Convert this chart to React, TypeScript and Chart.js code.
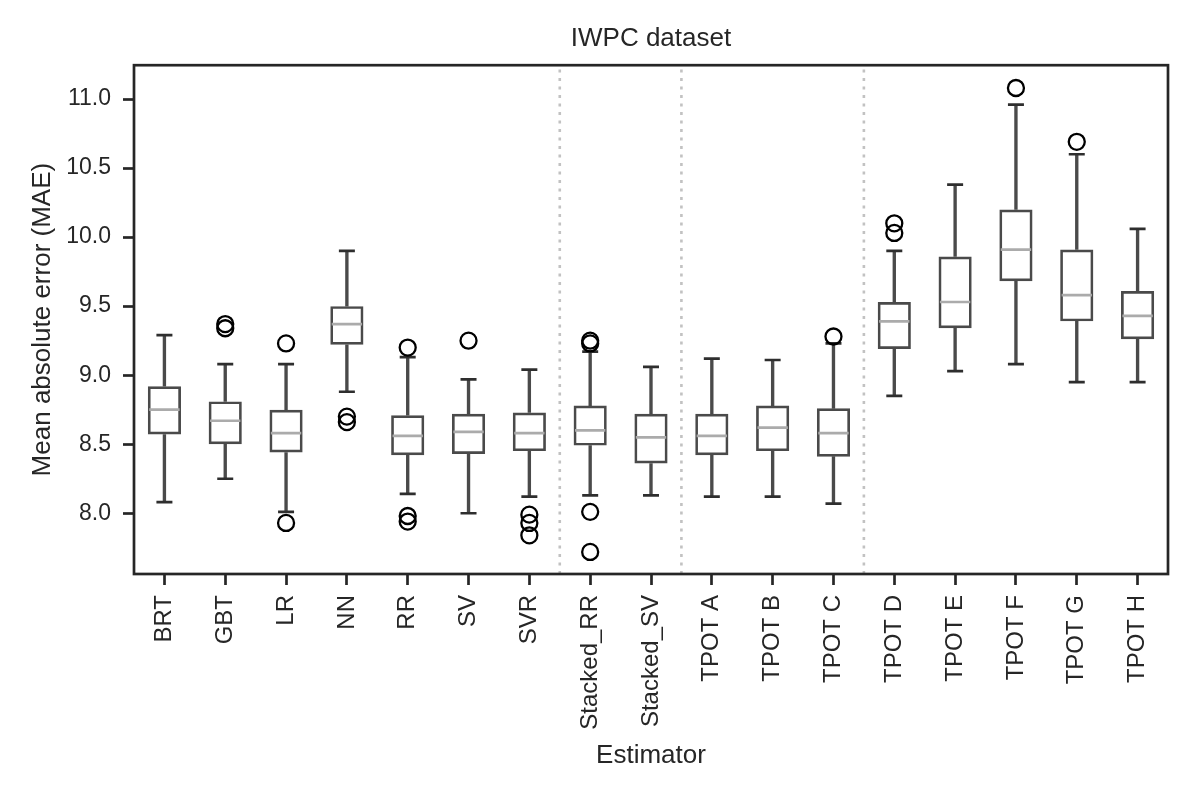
import { useEffect, useRef } from 'react';
import { Chart, registerables } from 'chart.js';

Chart.register(...registerables);

// ---- data ----
const categories = [
  'BRT', 'GBT', 'LR', 'NN', 'RR', 'SV', 'SVR', 'Stacked_RR', 'Stacked_SV',
  'TPOT A', 'TPOT B', 'TPOT C', 'TPOT D', 'TPOT E', 'TPOT F', 'TPOT G', 'TPOT H',
];
const whiskerLow = [8.08, 8.25, 8.01, 8.88, 8.14, 8.0, 8.12, 8.13, 8.13, 8.12, 8.12, 8.07, 8.85, 9.03, 9.08, 8.95, 8.95];
const q1 = [8.57, 8.5, 8.44, 9.22, 8.42, 8.43, 8.45, 8.49, 8.36, 8.42, 8.45, 8.41, 9.19, 9.34, 9.68, 9.39, 9.26];
const medians = [8.75, 8.67, 8.58, 9.37, 8.56, 8.59, 8.58, 8.6, 8.55, 8.56, 8.62, 8.58, 9.39, 9.53, 9.91, 9.58, 9.43];
const q3 = [8.92, 8.81, 8.75, 9.5, 8.71, 8.72, 8.73, 8.78, 8.72, 8.72, 8.78, 8.76, 9.53, 9.86, 10.2, 9.91, 9.61];
const whiskerHigh = [9.29, 9.08, 9.08, 9.9, 9.13, 8.97, 9.04, 9.17, 9.06, 9.12, 9.11, 9.23, 9.9, 10.38, 10.96, 10.6, 10.06];
const outliers = [
  [], [9.37, 9.34], [9.23, 7.93], [8.7, 8.66], [9.2, 7.98, 7.94], [9.25], [7.99, 7.93, 7.84],
  [9.25, 9.23, 8.01, 7.72], [], [], [], [9.28], [10.1, 10.03], [], [11.08], [10.69], [],
];
const groupEnds = ['SVR', 'Stacked_SV', 'TPOT C'];
const yTicks = [8.0, 8.5, 9.0, 9.5, 10.0, 10.5, 11.0];
const yMin = 7.56;
const yMax = 11.245;
const titleText = 'IWPC dataset';
const xTitle = 'Estimator';
const yTitle = 'Mean absolute error (MAE)';

const FONT = '"Liberation Sans", Arial, Helvetica, sans-serif';
const INK = '#262626';
const BOX = '#4a4a4a';
const CAP = '#2e2e2e';
const MED = '#ababab';
const LW = 2.7;

export default function App() {
  const ref = useRef<HTMLCanvasElement>(null);

  useEffect(() => {
    if (!ref.current) return;
    const outlierPoints = outliers.flatMap((vals, i) => vals.map((v) => ({ x: categories[i], y: v })));

    const framePlugin = {
      id: 'frameAndSeparators',
      beforeDatasetsDraw(chart: any) {
        const { ctx, chartArea: a, scales } = chart;
        const xs = scales.x;
        ctx.save();
        ctx.strokeStyle = '#c2c2c2';
        ctx.lineWidth = 2.6;
        ctx.setLineDash([3, 5.5]);
        for (const name of groupEnds) {
          const i = categories.indexOf(name);
          const px = (xs.getPixelForValue(i) + xs.getPixelForValue(i + 1)) / 2;
          ctx.beginPath();
          ctx.moveTo(px, a.bottom);
          ctx.lineTo(px, a.top);
          ctx.stroke();
        }
        ctx.restore();
      },
      afterDatasetsDraw(chart: any) {
        const { ctx, chartArea: a } = chart;
        ctx.save();
        ctx.strokeStyle = INK;
        ctx.lineWidth = LW;
        ctx.strokeRect(a.left, a.top, a.right - a.left, a.bottom - a.top);
        ctx.restore();
      },
    };

    const chart = new Chart(ref.current, {
      type: 'bar',
      data: {
        labels: categories,
        datasets: [
          {
            type: 'bar',
            label: 'lower whisker',
            data: whiskerLow.map((v, i) => [v, q1[i]]),
            backgroundColor: BOX,
            borderWidth: 0,
            barThickness: LW,
            grouped: false,
            order: 6,
          } as any,
          {
            type: 'bar',
            label: 'upper whisker',
            data: q3.map((v, i) => [v, whiskerHigh[i]]),
            backgroundColor: BOX,
            borderWidth: 0,
            barThickness: LW,
            grouped: false,
            order: 5,
          } as any,
          {
            type: 'bar',
            label: 'box',
            data: q1.map((v, i) => [v, q3[i]]),
            backgroundColor: 'rgba(255,255,255,0)',
            borderColor: BOX,
            borderWidth: LW,
            borderSkipped: false,
            barPercentage: 0.545,
            categoryPercentage: 1,
            grouped: false,
            order: 4,
          } as any,
          {
            type: 'line',
            label: 'median',
            data: medians,
            showLine: false,
            pointStyle: 'line',
            pointRadius: 15.2,
            pointHoverRadius: 15.2,
            pointBorderWidth: LW,
            pointBorderColor: MED,
            borderColor: MED,
            order: 3,
          } as any,
          {
            type: 'line',
            label: 'cap low',
            data: whiskerLow,
            showLine: false,
            pointStyle: 'line',
            pointRadius: 8,
            pointHoverRadius: 8,
            pointBorderWidth: LW,
            pointBorderColor: CAP,
            borderColor: CAP,
            order: 2,
          } as any,
          {
            type: 'line',
            label: 'cap high',
            data: whiskerHigh,
            showLine: false,
            pointStyle: 'line',
            pointRadius: 8,
            pointHoverRadius: 8,
            pointBorderWidth: LW,
            pointBorderColor: CAP,
            borderColor: CAP,
            order: 2,
          } as any,
          {
            type: 'line',
            label: 'outliers',
            data: outlierPoints,
            showLine: false,
            pointStyle: 'circle',
            pointRadius: 8,
            pointHoverRadius: 8,
            pointBorderWidth: 2.3,
            pointBorderColor: '#000000',
            pointBackgroundColor: 'rgba(255,255,255,0)',
            borderColor: '#000000',
            order: 1,
          } as any,
        ],
      },
      options: {
        responsive: false,
        animation: false,
        events: [],
        layout: { padding: { left: 0, right: 28, top: 0, bottom: 0 } },
        plugins: {
          legend: { display: false },
          tooltip: { enabled: false },
          title: {
            display: true,
            text: titleText,
            fullSize: false,
            color: INK,
            font: { family: FONT, size: 26, weight: 'normal' },
            padding: { top: 23, bottom: 11 },
          },
        },
        scales: {
          x: {
            type: 'category',
            offset: true,
            grid: {
              display: true,
              offset: false,
              drawOnChartArea: false,
              drawTicks: true,
              tickLength: 11,
              tickWidth: LW,
              tickColor: INK,
            },
            border: { display: false },
            ticks: {
              autoSkip: false,
              minRotation: 90,
              maxRotation: 90,
              padding: 10,
              color: INK,
              font: { family: FONT, size: 24 },
            },
            title: {
              display: true,
              text: xTitle,
              color: INK,
              font: { family: FONT, size: 26 },
              padding: { top: 0, bottom: 27 },
            },
            afterFit: (s: any) => {
              s.height = 798 - 574;
            },
          },
          y: {
            type: 'linear',
            min: yMin,
            max: yMax,
            grid: {
              display: true,
              drawOnChartArea: false,
              drawTicks: true,
              tickLength: 11,
              tickWidth: LW,
              tickColor: INK,
            },
            border: { display: false },
            afterBuildTicks: (axis: any) => {
              axis.ticks = yTicks.map((v) => ({ value: v }));
            },
            ticks: {
              padding: 12,
              color: INK,
              font: { family: FONT, size: 23 },
              callback: (v: any) => Number(v).toFixed(1),
            },
            title: {
              display: true,
              text: yTitle,
              color: INK,
              font: { family: FONT, size: 26 },
              padding: { top: 27, bottom: 0 },
            },
            afterFit: (s: any) => {
              s.width = 134;
            },
          },
        },
      } as any,
      plugins: [framePlugin],
    });

    return () => chart.destroy();
  }, []);

  return (
    <div style={{ position: 'fixed', left: 0, top: 0, width: 1196, height: 798, background: '#ffffff' }}>
      <canvas ref={ref} width={1196} height={798} style={{ width: 1196, height: 798, display: 'block' }} />
    </div>
  );
}
